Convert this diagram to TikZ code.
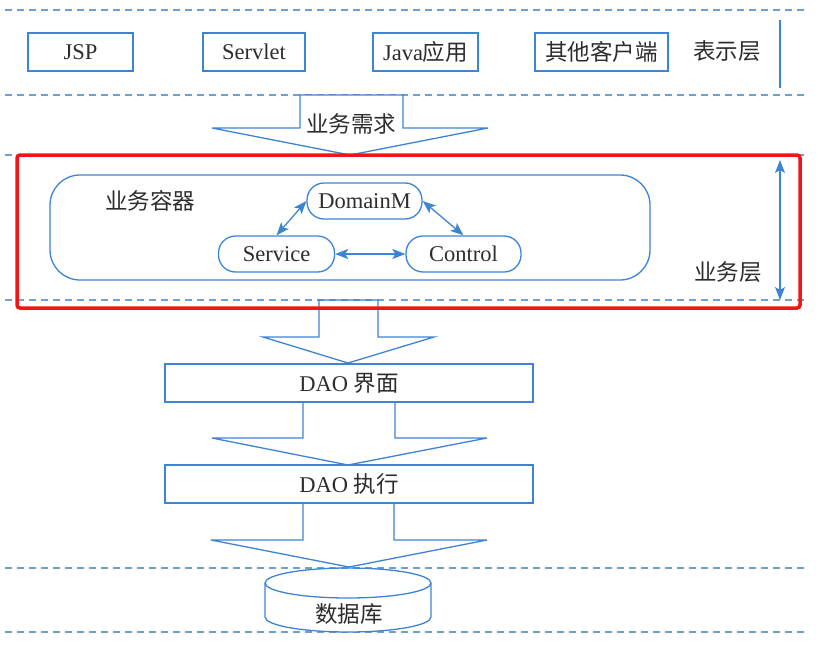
\documentclass[tikz,border=0pt]{standalone}
\usepackage{fontspec}
\setmainfont{Liberation Serif}
\newfontfamily\cjk{Noto Sans CJK SC}
\usetikzlibrary{arrows.meta}
\definecolor{lblue}{RGB}{62,132,212}
\definecolor{dblue}{RGB}{110,160,210}
\definecolor{txt}{RGB}{45,45,45}
\definecolor{redbox}{RGB}{245,20,20}
\tikzset{
  dashline/.style={dblue, line width=1.1pt, dash pattern=on 7pt off 5pt},
  rectbox/.style={draw=lblue, line width=1.4pt, text=txt, inner sep=0pt},
  roundbox/.style={draw=lblue, line width=1.3pt, text=txt, rounded corners=17pt, minimum height=36pt, inner sep=0pt},
  blockarrow/.style={draw=lblue, line width=1.3pt, line join=miter},
  dbl/.style={lblue, line width=1.3pt, {Stealth[length=13pt,width=10pt,inset=3pt]}-{Stealth[length=13pt,width=10pt,inset=3pt]}},
  lbl/.style={text=txt, inner sep=0pt},
}
\begin{document}
\begin{tikzpicture}[x=1pt,y=-1pt,font=\fontsize{22.5}{26}\selectfont]
\useasboundingbox (0,0) rectangle (819,645);
\fill[white] (0,0) rectangle (819,645);
% dashed layer lines
\foreach \yy in {10,95,155,300,568,632}
  \draw[dashline] (5,\yy) -- (808,\yy);
% presentation layer
\node[rectbox, minimum width=105pt, minimum height=38pt] (jsp) at (80.5,52) {JSP};
\node[rectbox, minimum width=102pt, minimum height=38pt] (servlet) at (254,52) {Servlet};
\node[rectbox, minimum width=105pt, minimum height=38pt] (java) at (425.5,52) {Java{\cjk 应用}};
\node[rectbox, minimum width=133pt, minimum height=38pt] (other) at (601.5,52) {\cjk 其他客户端};
\node[lbl] (pres) at (727,51) {\cjk 表示层};
\coordinate (pv1) at (780,20);
\coordinate (pv2) at (780,88);
\draw[lblue, line width=1.1pt] (pv1) -- (pv2);
% arrow 1
\draw[blockarrow, fill=white] (300,95) -- (300,128) -- (212,128) -- (350,155) -- (488,128) -- (403,128) -- (403,95) -- cycle;
\node[lbl] (req) at (351,124) {\cjk 业务需求};
% business layer
\draw[lblue, line width=1.3pt, rounded corners=30pt] (50,175) rectangle (650,280);
\node[lbl] (cont) at (150,201) {\cjk 业务容器};
\node[roundbox, minimum width=115pt] (dm) at (364.5,201) {DomainM};
\node[roundbox, minimum width=116pt] (svc) at (276.5,254) {Service};
\node[roundbox, minimum width=115pt] (ctl) at (463.5,254) {Control};
\draw[dbl] (dm.west) -- (svc.north);
\draw[dbl] (dm.east) -- (ctl.north);
\draw[dbl] (svc.east) -- (ctl.west);
\node[lbl] (biz) at (728,272) {\cjk 业务层};
\coordinate (bv1) at (780,160);
\coordinate (bv2) at (780,300);
\draw[dbl] (bv1) -- (bv2);
% arrow 2
\draw[blockarrow] (319,300) -- (319,337) -- (263,337) -- (348,363) -- (434,337) -- (378,337) -- (378,300) -- cycle;
\node[rectbox, minimum width=368pt, minimum height=38pt] (daoi) at (349,383) {DAO {\cjk 界面}};
% arrow 3
\draw[blockarrow] (303,402) -- (303,438) -- (212,438) -- (348,465) -- (487,438) -- (395,438) -- (395,402);
\node[rectbox, minimum width=368pt, minimum height=38pt] (daoe) at (349,484) {DAO {\cjk 执行}};
% arrow 4
\draw[blockarrow] (303,503) -- (303,540) -- (211,540) -- (349,567) -- (487,540) -- (394,540) -- (394,503);
% database
\draw[lblue, line width=1.3pt, fill=white] (265,583) -- (265,617) arc[start angle=180, end angle=360, x radius=83pt, y radius=15pt] -- (431,583);
\draw[lblue, line width=1.3pt] (348,583) ellipse[x radius=83pt, y radius=15pt];
\node[lbl] (db) at (349,614) {\cjk 数据库};
% red highlight
\draw[redbox, line width=3.5pt, rounded corners=3pt] (17,155) rectangle (800,308);
\end{tikzpicture}
\end{document}
